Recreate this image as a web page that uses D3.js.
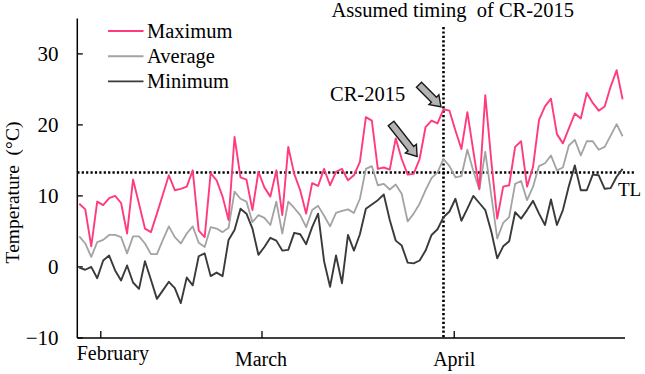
<!DOCTYPE html>
<html><head><meta charset="utf-8">
<script src="https://cdn.jsdelivr.net/npm/d3@7"></script>
<style>
body{margin:0;background:#fff}
svg{display:block}
text{font-family:"Liberation Serif","Times New Roman",serif;fill:#000}
</style>
</head><body>
<svg id="chart" width="645" height="374"></svg>
<script>
// Daily temperatures (°C), one value per day
const maximum = [8.9,8.1,2.9,9.2,8.7,9.7,10.0,9.0,4.7,12.3,8.9,5.4,4.9,7.5,10.2,12.9,10.8,11.0,11.3,13.6,
  5.1,4.2,13.2,12.2,9.9,6.6,18.3,12.6,12.3,8.0,13.4,11.2,9.9,13.6,7.3,16.9,13.1,10.8,7.5,11.8,
  11.4,13.8,11.5,13.4,13.8,12.2,12.9,14.8,21.1,20.6,13.8,14.0,13.7,18.1,15.2,13.0,13.1,15.2,19.7,20.6,
  20.2,22.2,22.0,19.2,16.6,21.8,16.3,11.0,24.2,15.0,6.8,11.3,11.5,16.9,17.7,11.3,14.1,20.7,22.6,23.7,
  18.7,17.4,19.5,21.6,20.9,24.5,23.1,22.0,22.6,25.4,27.7,23.6];
const average = [4.3,3.3,1.4,3.5,3.8,4.5,4.5,4.2,1.9,4.3,4.3,3.3,1.8,1.8,3.8,5.7,4.2,3.3,4.7,5.7,
  3.4,2.8,5.6,5.4,4.9,5.5,10.6,9.6,9.2,6.3,7.3,6.9,5.9,9.2,4.7,9.2,8.3,7.3,5.6,8.0,
  8.6,7.2,5.7,7.6,7.9,8.1,7.6,9.6,13.8,14.2,11.5,11.7,10.9,11.6,10.3,6.4,7.5,8.9,10.8,12.5,
  13.3,15.2,14.2,12.6,12.8,16.5,13.5,10.9,16.2,10.1,4.0,6.2,7.0,11.7,12.1,9.4,11.3,14.2,14.6,15.7,
  13.6,14.0,17.1,17.9,15.7,17.7,17.7,16.5,16.9,18.5,20.1,18.4];
const minimum = [-0.1,-0.4,0.0,-1.6,0.9,1.6,-0.5,-1.9,0.2,-2.2,-3.1,0.8,-1.8,-4.5,-3.3,-2.1,-3.0,-5.1,-1.5,-2.6,
  1.5,1.9,-1.3,-0.8,-1.3,3.8,5.2,8.2,7.5,5.4,1.7,2.8,4.1,3.7,2.3,2.4,4.8,4.6,3.2,5.6,
  7.5,0.8,-2.8,1.6,-2.3,4.5,2.3,4.6,8.2,8.8,9.4,10.2,6.6,3.7,3.0,0.6,0.5,0.9,2.3,4.5,
  5.3,7.0,7.8,9.6,6.5,8.2,10.0,9.0,8.0,5.0,1.2,2.9,3.6,7.7,6.8,8.0,9.3,7.5,5.9,9.5,
  5.9,8.0,11.4,14.3,10.8,10.8,13.0,12.9,11.0,11.1,12.7,13.8];
const seriesNames = ["Maximum","Average","Minimum"];
const yTicks = [-10,0,10,20,30];
const months = ["February","March","April"];
const monthTickDay = [3.6,30.6,62.8];
const thresholdTL = 13.3;
const crDay = 61;
const arrowDays = [61,57];

const svg = d3.select("#chart");
const colors = {Maximum:"#ff3b7b", Average:"#a3a3a3", Minimum:"#3a3a3a"};
const data = {Maximum:maximum, Average:average, Minimum:minimum};

const x = d3.scaleLinear().domain([0, maximum.length-1]).range([79.3, 622.6]);
const y = d3.scaleLinear().domain([-10, 35]).range([337.9, 18.4]);
const axisLeftX = 77.3, axisBottomY = y(-10);

// axes lines
svg.append("line").attr("x1",axisLeftX).attr("x2",axisLeftX).attr("y1",y(35)).attr("y2",axisBottomY)
  .attr("stroke","#000").attr("stroke-width",1.5);
svg.append("line").attr("x1",axisLeftX).attr("x2",625).attr("y1",axisBottomY).attr("y2",axisBottomY)
  .attr("stroke","#000").attr("stroke-width",1.5);

// y ticks
const yAxis = d3.axisLeft(y).tickValues(yTicks).tickSize(0).tickPadding(0);
const gy = svg.append("g").attr("transform",`translate(58.5,0)`).call(yAxis)
  .attr("font-family",'"Liberation Serif",serif').attr("font-size",21);
gy.select(".domain").remove();
gy.selectAll("text").style("font-family",'"Liberation Serif","Times New Roman",serif').style("font-size","21px").attr("fill","#000");
yTicks.forEach(t=>{
  svg.append("line").attr("x1",axisLeftX).attr("x2",axisLeftX+5.5).attr("y1",y(t)).attr("y2",y(t))
    .attr("stroke","#000").attr("stroke-width",1.3);
});

// x ticks (month marks)
monthTickDay.forEach(d=>{
  svg.append("line").attr("x1",x(d)).attr("x2",x(d)).attr("y1",axisBottomY).attr("y2",axisBottomY-7)
    .attr("stroke","#000").attr("stroke-width",1.3);
});
const monthLabelPos = [{dx:12, y:360},{dx:-1, y:366},{dx:0, y:366}];
months.forEach((m,i)=>{
  svg.append("text").attr("x",x(monthTickDay[i])+monthLabelPos[i].dx).attr("y",monthLabelPos[i].y)
    .attr("text-anchor","middle").style("font-size","20px").text(m);
});

// threshold line TL
svg.append("line").attr("x1",axisLeftX).attr("x2",636).attr("y1",y(thresholdTL)).attr("y2",y(thresholdTL))
  .attr("stroke","#000").attr("stroke-width",2.6).attr("stroke-dasharray","2.2,2.2");
svg.append("text").attr("x",618).attr("y",y(thresholdTL)+24).style("font-size","19px").text("TL");

// vertical line (assumed timing)
svg.append("line").attr("x1",x(crDay)).attr("x2",x(crDay)).attr("y1",27).attr("y2",axisBottomY)
  .attr("stroke","#000").attr("stroke-width",2.6).attr("stroke-dasharray","2.2,2.2");

// series lines
const line = d3.line().x((d,i)=>x(i)).y(d=>y(d));
["Average","Minimum","Maximum"].forEach(k=>{
  svg.append("path").datum(data[k]).attr("d",line).attr("fill","none")
    .attr("stroke",colors[k]).attr("stroke-width",k==="Average"?1.8:1.9).attr("stroke-linejoin","round");
});

// legend
seriesNames.forEach((k,i)=>{
  const ly = 31 + i*25.2;
  svg.append("line").attr("x1",108).attr("x2",143.5).attr("y1",ly).attr("y2",ly)
    .attr("stroke",colors[k]).attr("stroke-width",1.9);
  svg.append("text").attr("x",147).attr("y",ly+6.8).style("font-size","20.5px").text(k);
});

// axis title
svg.append("text").attr("transform","translate(18.5,192.5) rotate(-90)").attr("text-anchor","middle")
  .style("font-size","19.5px").text("Temperature\u00a0\u00a0(°C)");

// annotations
svg.append("text").attr("x",331.5).attr("y",16.5).style("font-size","20.5px").text("Assumed timing\u00a0\u00a0of CR-2015");
svg.append("text").attr("x",330).attr("y",100.5).style("font-size","20.5px").text("CR-2015");

function blockArrow(tail, tip){
  const dx = tip[0]-tail[0], dy = tip[1]-tail[1], L = Math.hypot(dx,dy);
  const ux = dx/L, uy = dy/L, nx = -uy, ny = ux;
  const sw = 3.6, hw = 7, hl = 10;
  const bx = tip[0]-ux*hl, by = tip[1]-uy*hl;
  const pts = [
    [tail[0]+nx*sw, tail[1]+ny*sw],[bx+nx*sw, by+ny*sw],[bx+nx*hw, by+ny*hw],tip,
    [bx-nx*hw, by-ny*hw],[bx-nx*sw, by-ny*sw],[tail[0]-nx*sw, tail[1]-ny*sw]];
  svg.append("polygon").attr("points",pts.map(p=>p.join(",")).join(" "))
    .attr("fill","#b3b3b3").attr("stroke","#1a1a1a").attr("stroke-width",1.4).attr("stroke-linejoin","miter");
}
const arrowTails = [[-22,-22],[-26,-33]];
arrowDays.forEach((d,i)=>{
  const tip = [x(d)-2.5, y(maximum[d])-2.5];
  blockArrow([tip[0]+arrowTails[i][0], tip[1]+arrowTails[i][1]], tip);
});
</script>
</body></html>
